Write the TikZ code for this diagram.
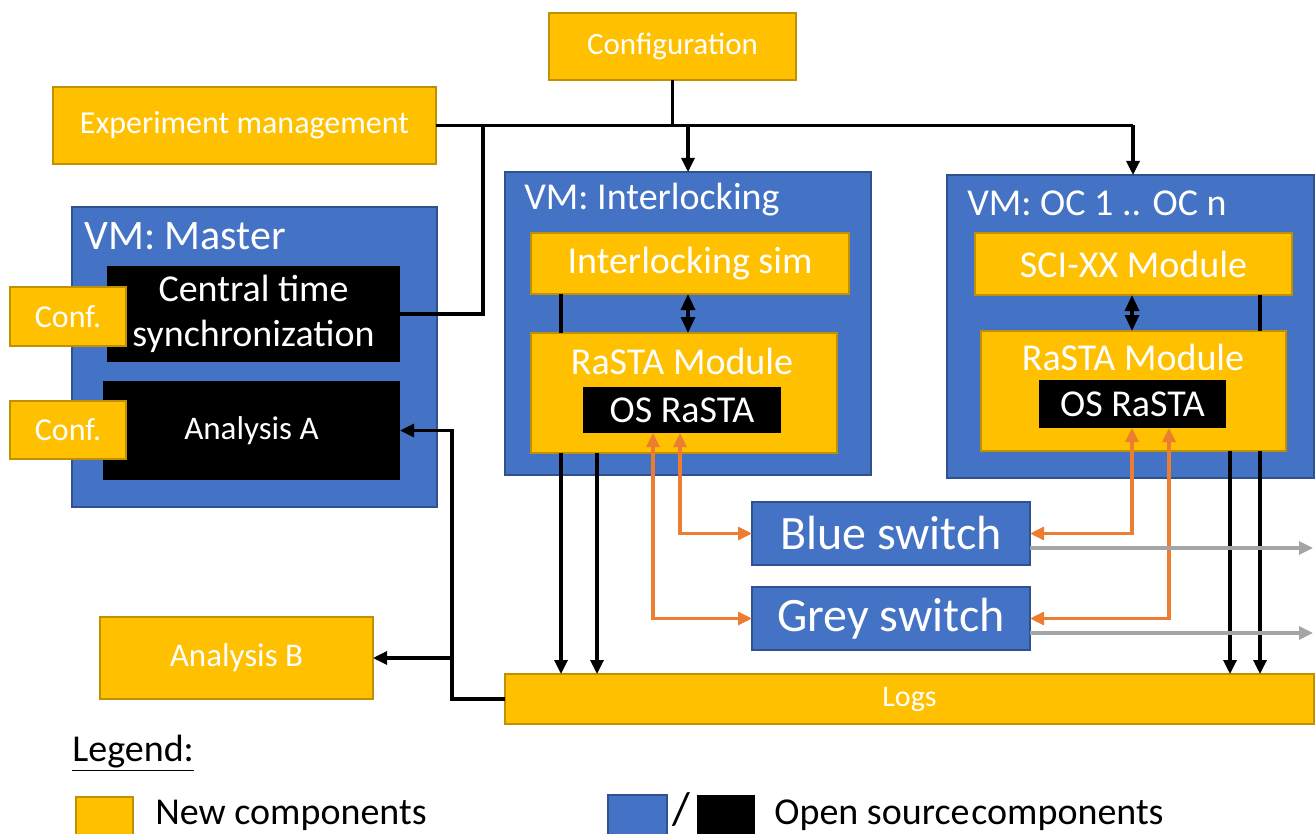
\documentclass[tikz,border=0pt]{standalone}
\usepackage{fontspec}
\setmainfont{Carlito}
\usetikzlibrary{arrows.meta}
\definecolor{newyel}{HTML}{FFC000}
\definecolor{newyeldk}{HTML}{BF9000}
\definecolor{osblue}{HTML}{4472C4}
\definecolor{osbluedk}{HTML}{2F528F}
\definecolor{linkor}{HTML}{ED7D31}
\definecolor{fwdgrey}{HTML}{A5A5A5}
\newcommand{\fs}[1]{\fontsize{#1}{1.2\dimexpr#1pt\relax}\selectfont}
\begin{document}
\begin{tikzpicture}[x=0.5pt,y=-0.5pt,
  box/.style={inner sep=0pt, outer sep=0pt, text=white, align=center},
  ybox/.style={box, fill=newyel, draw=newyeldk, line width=0.8pt},
  bbox/.style={box, fill=osblue, draw=osbluedk, line width=0.8pt},
  kbox/.style={box, fill=black},
  sz/.style 2 args={minimum width=#1pt, minimum height=#2pt},
  title/.style={anchor=west, text=white, inner sep=0pt},
  tip/.style={Triangle[length=7pt,width=6.5pt]},
  ctl/.style={line width=1.6pt, black},
  ctlarr/.style={ctl, -{Triangle[length=7pt,width=6.5pt]}},
  ctlboth/.style={ctl, {Triangle[length=8pt,width=7pt]}-{Triangle[length=8pt,width=7pt]}},
  orarr/.style={line width=1.6pt, linkor, {Triangle[length=7pt,width=6.5pt]}-{Triangle[length=7pt,width=6.5pt]}},
  greyarr/.style={line width=1.6pt, fwdgrey, -{Triangle[length=7pt,width=6.5pt]}}
]
\clip (0,0) rectangle (1316,834);

% top-level configuration and experiment control
\node[ybox, sz={123.5}{33.5}, font=\fs{15.5}] (cfg) at (672.5,46.5) {Configuration};
\node[ybox, sz={191.5}{38.5}, font=\fs{16}] (exp) at (244.5,125.5) {Experiment management};

% master VM
\node[bbox, sz={182.5}{150}] (vmm) at (254.5,357) {};
\node[title, font=\fs{21}] (vmmt) at (84,236) {VM: Master};
\node[kbox, sz={146.5}{48}, font=\fontsize{19}{22.5}\selectfont] (cts) at (253.5,314) {Central time\\synchronization};
\node[kbox, sz={148.5}{49.5}, font=\fs{16.5}] (ana) at (251.5,430.5) {Analysis A};
\node[ybox, sz={58}{29.5}, font=\fs{16}] (cf1) at (68,316.5) {Conf.};
\node[ybox, sz={58}{29}, font=\fs{16}] (cf2) at (68,430) {Conf.};

% interlocking VM
\node[bbox, sz={183}{151.5}] (vmi) at (688,323.5) {};
\node[title, font=\fs{19}] (vmit) at (524,200) {VM: Interlocking};
\node[ybox, sz={159}{30.5}, font=\fs{19}] (ils) at (690,263.5) {Interlocking sim};
\node[ybox, sz={153}{60}] (rm1) at (684,393) {};
\node[text=white, inner sep=0pt, font=\fs{19}] (rm1t) at (682,361) {RaSTA Module};
\node[kbox, sz={99}{23}, font=\fs{19}] (os1) at (682,410) {OS RaSTA};

% object controller VM
\node[bbox, sz={183.5}{151.5}] (vmo) at (1130.5,326.5) {};
\node[title, font=\fs{19}] (vmot) at (967,203) {VM: OC 1 .. OC n};
\node[ybox, sz={158.5}{31}, font=\fs{19}] (sci) at (1133.5,264) {SCI-XX Module};
\node[ybox, sz={152.5}{60}] (rm2) at (1133.5,391) {};
\node[text=white, inner sep=0pt, font=\fs{19}] (rm2t) at (1133,357) {RaSTA Module};
\node[kbox, sz={93.5}{24}, font=\fs{19}] (os2) at (1132.5,404) {OS RaSTA};

% network switches, logs, offline analysis
\node[bbox, sz={139}{31.5}, font=\fs{24}] (bsw) at (891,533.5) {Blue switch};
\node[bbox, sz={139}{31.5}, font=\fs{24}] (gsw) at (891,618.5) {Grey switch};
\node[ybox, sz={404.5}{25}, font=\fs{15}] (logs) at (909.5,699) {Logs};
\node[ybox, sz={136.5}{41}, font=\fs{16.5}] (anb) at (236.5,658) {Analysis B};

% helper positions for the vertical runs
\coordinate (busL) at (483,125.5);
\coordinate (busI) at (688,125.5);
\coordinate (busR) at (1133,125.5);
\coordinate (xa) at (561,0);
\coordinate (xb) at (597,0);
\coordinate (xc) at (1230,0);
\coordinate (xd) at (1260,0);
\coordinate (xi) at (688,0);
\coordinate (xo) at (1132,0);
\coordinate (oa) at (653,0);
\coordinate (ob) at (680,0);
\coordinate (oc) at (1132,0);
\coordinate (od) at (1169,0);
\coordinate (lx) at (452,0);

% control bus
\draw[ctl] (cfg.south) -- (cfg.south |- busL);
\draw[ctl] (exp.east) -- (busR);
\draw[ctlarr] (busI) -- (busI |- vmi.north);
\draw[ctlarr] (busR) -- (busR |- vmo.north);
\draw[ctl] (busL) |- (cts.east);

% module interfaces inside the VMs
\draw[ctlboth] (ils.south -| xi) -- (rm1.north -| xi);
\draw[ctlboth] (sci.south -| xo) -- (rm2.north -| xo);

% log streams
\draw[ctl] (ils.south -| xa) -- (rm1.north -| xa);
\draw[ctlarr] (rm1.south -| xa) -- (logs.north -| xa);
\draw[ctlarr] (rm1.south -| xb) -- (logs.north -| xb);
\draw[ctl] (sci.south -| xd) -- (rm2.north -| xd);
\draw[ctlarr] (rm2.south -| xd) -- (logs.north -| xd);
\draw[ctlarr] (rm2.south -| xc) -- (logs.north -| xc);

% RaSTA links through the switches
\draw[orarr] (os1.south -| ob) |- (bsw.west);
\draw[orarr] (os1.south -| oa) |- (gsw.west);
\draw[orarr] (os2.south -| oc) |- (bsw.east);
\draw[orarr] (os2.south -| od) |- (gsw.east);
\draw[greyarr] ([yshift=-7.25pt]bsw.east) -- +(283,0);
\draw[greyarr] ([yshift=-7.25pt]gsw.east) -- +(283,0);

% logs to the analyses
\draw[ctlarr] (logs.west) -- (logs.west -| lx) |- (ana.east);
\draw[ctlarr] (lx |- anb.east) -- (anb.east);

% legend
\node[anchor=base west, inner sep=0pt, font=\fs{19}] (leg) at (72,761) {\underline{Legend:}};
\node[ybox, sz={28.5}{27}] (lgy) at (104.5,824) {};
\node[anchor=base west, inner sep=0pt, font=\fs{19}] (lgyt) at (155,824) {New components};
\node[bbox, sz={29.5}{28}] (lgb) at (637.5,823) {};
\node[anchor=base, inner sep=0pt, font=\fs{23}] (lgs) at (681,824) {/};
\node[kbox, sz={29}{28}] (lgk) at (726,823) {};
\node[anchor=base west, inner sep=0pt, font=\fs{19}] (lgkt) at (774,824) {Open source\hspace{0.05em}components};
\end{tikzpicture}
\end{document}
